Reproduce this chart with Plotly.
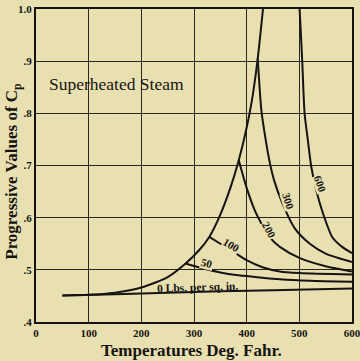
import plotly.graph_objects as go

# ---- data ----
x_ticks = [0, 100, 200, 300, 400, 500, 600]
y_tickvals = [0.4, 0.5, 0.6, 0.7, 0.8, 0.9, 1.0]
y_ticktext = [".4", ".5", ".6", ".7", ".8", ".9", "1.0"]

sat_T = [50, 100, 150, 200, 250, 284, 310, 329, 350, 370, 385, 399, 410, 421, 431]
sat_v = [0.451, 0.452, 0.456, 0.466, 0.486, 0.512, 0.538, 0.563, 0.606, 0.660, 0.710, 0.768, 0.825, 0.905, 1.000]

p0_T = [50, 150, 250, 350, 450, 600]
p0_v = [0.451, 0.453, 0.456, 0.459, 0.461, 0.464]

p50_T = [284, 320, 350, 380, 420, 463, 520, 600]
p50_v = [0.512, 0.502, 0.495, 0.490, 0.486, 0.482, 0.479, 0.477]

p100_T = [329, 350, 371, 399, 430, 463, 500, 600]
p100_v = [0.563, 0.550, 0.537, 0.519, 0.505, 0.497, 0.494, 0.491]

p200_T = [385, 400, 415, 430, 444, 463, 500, 550, 600]
p200_v = [0.710, 0.657, 0.615, 0.585, 0.562, 0.544, 0.523, 0.507, 0.497]

p300_T = [421, 428, 436, 444, 452, 466, 491, 520, 550, 600]
p300_v = [0.905, 0.805, 0.750, 0.705, 0.672, 0.632, 0.580, 0.550, 0.531, 0.515]

p600_T = [500.5, 505.5, 510, 516, 522.6, 532, 545, 563, 580, 600]
p600_v = [1.000, 0.900, 0.800, 0.750, 0.698, 0.653, 0.608, 0.562, 0.545, 0.532]

BG = "#e9e0b1"
INK = "#161412"
SERIF = "Liberation Serif"

fig = go.Figure()
for T, v in [(sat_T, sat_v), (p0_T, p0_v), (p50_T, p50_v), (p100_T, p100_v),
             (p200_T, p200_v), (p300_T, p300_v), (p600_T, p600_v)]:
    fig.add_trace(go.Scatter(x=T, y=v, mode="lines",
                             line=dict(color=INK, width=2, shape="spline", smoothing=0.7),
                             hoverinfo="skip", showlegend=False))

def label(text, x, y, angle, size=11):
    fig.add_annotation(x=x, y=y, xref="x", yref="y", text=text, showarrow=False,
                       textangle=angle, bgcolor=BG, borderpad=0,
                       font=dict(family=SERIF, size=size, color=INK, weight="bold"))

label("50", 324, 0.513, 15)
label("100", 371, 0.548, 30)
label("200", 443, 0.577, 62)
label("300", 479, 0.632, 72)
label("600", 540, 0.665, 70)

fig.add_annotation(x=307, y=0.467, xref="x", yref="y", text="0 Lbs. per sq. in.",
                   showarrow=False, textangle=-2,
                   font=dict(family=SERIF, size=11.5, color=INK, weight="bold"))
fig.add_annotation(x=153, y=0.857, xref="x", yref="y", text="Superheated Steam",
                   showarrow=False,
                   font=dict(family=SERIF, size=17.5, color=INK))
fig.add_annotation(x=296, y=-0.09, xref="x", yref="paper", text="Temperatures Deg. Fahr.",
                   showarrow=False, xanchor="center", yanchor="middle",
                   font=dict(family=SERIF, size=17, color=INK, weight="bold"))
fig.add_annotation(xref="paper", yref="paper", x=-0.073, y=0.483,
                   text="Progressive Values of C<sub>p</sub>",
                   showarrow=False, textangle=-90, xanchor="center", yanchor="middle",
                   font=dict(family=SERIF, size=17, color=INK, weight="bold"))

fig.update_layout(
    width=360, height=361, autosize=False,
    margin=dict(l=36, r=8, t=9, b=39, autoexpand=False),
    paper_bgcolor=BG, plot_bgcolor=BG,
    xaxis=dict(range=[0, 600], tickvals=x_ticks, ticktext=[str(t) for t in x_ticks],
               showgrid=True, gridcolor="#2a2622", gridwidth=1, automargin=False,
               showline=True, mirror=True, linecolor=INK, linewidth=2,
               ticks="", zeroline=False, ticklabeloverflow="allow",
               tickfont=dict(family=SERIF, size=11, color=INK, weight="bold")),
    yaxis=dict(range=[0.4, 1.0], tickvals=y_tickvals, ticktext=y_ticktext,
               showgrid=True, gridcolor="#2a2622", gridwidth=1, automargin=False,
               showline=True, mirror=True, linecolor=INK, linewidth=2,
               ticks="", zeroline=False, ticklabeloverflow="allow",
               tickfont=dict(family=SERIF, size=11, color=INK, weight="bold")),
)

fig.write_html("out.html", config={"displayModeBar": False},
               post_script="document.body.style.margin='0';document.body.style.overflow='hidden';")
